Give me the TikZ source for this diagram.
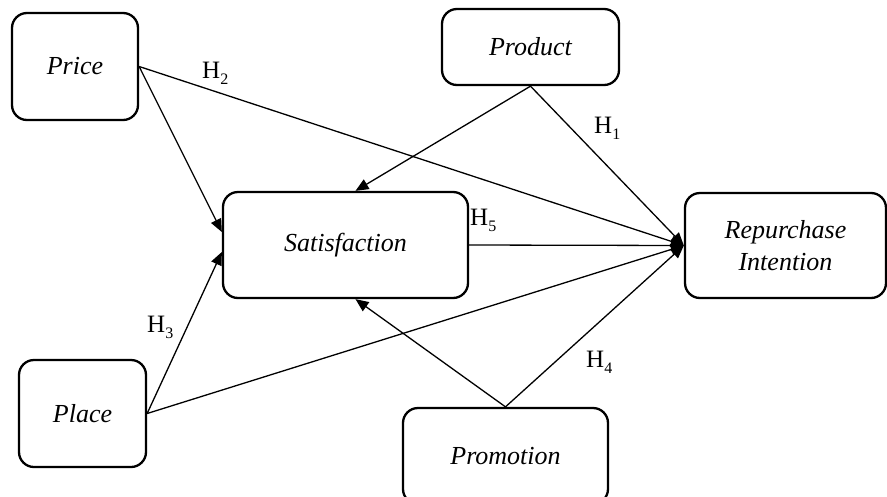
\documentclass[tikz,border=0pt]{standalone}
\usepackage{fontspec}
\setmainfont{Liberation Serif}
\usetikzlibrary{arrows.meta}
\newcommand\hyp[1]{H\raisebox{-6pt}{\fontsize{16}{16}\selectfont #1}}
\begin{document}
\begin{tikzpicture}[x=1pt,y=-1pt,
  box/.style={draw, line width=2.3pt, rounded corners=15pt, inner sep=0pt,
    align=center, font=\fontsize{26}{32}\selectfont\itshape},
  conn/.style={line width=1.3pt, -{Triangle[length=13pt,width=11pt]}},
  lab/.style={anchor=base west, inner sep=0pt, font=\fontsize{25}{25}\selectfont}]
\useasboundingbox (0,0) rectangle (887,496);
\node[box, minimum width=126pt, minimum height=107pt] (price) at (75,66.5) {Price};
\node[box, minimum width=177pt, minimum height=76pt] (product) at (530.5,47) {Product};
\node[box, minimum width=245pt, minimum height=106pt] (sat) at (345.5,245) {Satisfaction};
\node[box, minimum width=201pt, minimum height=105pt] (rep) at (785.5,245.5) {Repurchase\\Intention};
\node[box, minimum width=205pt, minimum height=96pt] (promo) at (505.5,456) {Promotion};
\node[box, minimum width=127pt, minimum height=107pt] (place) at (82.5,413.5) {Place};
\draw[conn] (price.east) -- ([yshift=13pt]sat.west);
\draw[conn] (place.east) -- ([yshift=-7pt]sat.west);
\draw[conn] (price.east) -- (rep.west);
\draw[conn] (product.south) -- ([xshift=10pt]sat.north);
\draw[conn] (product.south) -- (rep.west);
\draw[conn] (sat.east) -- (rep.west);
\draw[conn] (place.east) -- (rep.west);
\draw[conn] (promo.north) -- (rep.west);
\draw[conn] (promo.north) -- ([xshift=10pt]sat.south);
\node[lab] (h1) at (594,133) {\hyp{1}};
\node[lab] (h2) at (202,78) {\hyp{2}};
\node[lab] (h3) at (147,332) {\hyp{3}};
\node[lab] (h4) at (586,367) {\hyp{4}};
\node[lab] (h5) at (470,225) {\hyp{5}};
\end{tikzpicture}
\end{document}
